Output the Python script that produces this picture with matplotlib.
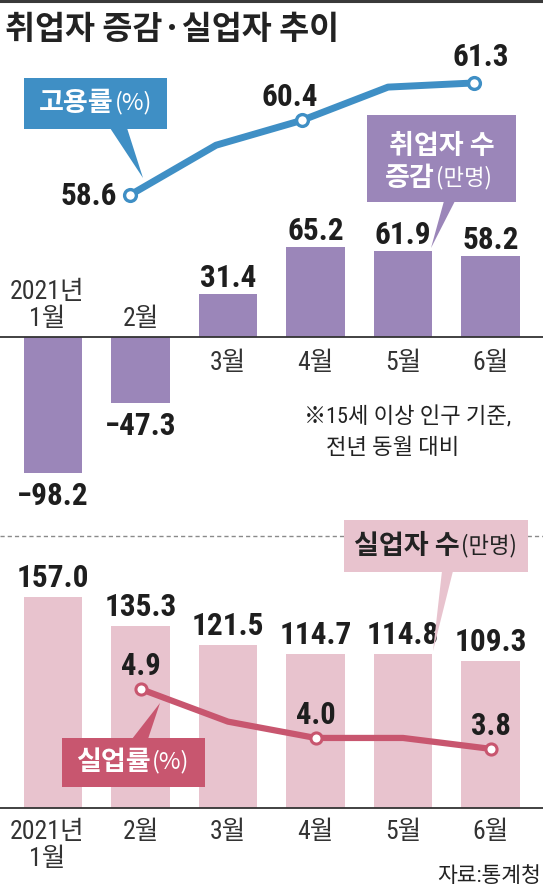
import matplotlib
matplotlib.use('Agg')
import matplotlib.pyplot as plt
from matplotlib.patches import Polygon
from matplotlib.lines import Line2D

# ---------------- data ----------------
months = ['2021년\n1월', '2월', '3월', '4월', '5월', '6월']
emp_change = [-98.2, -47.3, 31.4, 65.2, 61.9, 58.2]          # 취업자 수 증감(만명)
unemployed = [157.0, 135.3, 121.5, 114.7, 114.8, 109.3]      # 실업자 수(만명)
emp_rate_idx = [1, 2, 3, 4, 5]
emp_rate = [58.6, 59.8, 60.4, 61.2, 61.3]                    # 고용률(%)
emp_rate_labels = ['58.6', '', '60.4', '', '61.3']
unemp_rate_idx = [1, 2, 3, 4, 5]
unemp_rate = [4.9, 4.3, 4.0, 4.0, 3.8]                       # 실업률(%)
unemp_rate_labels = ['4.9', '', '4.0', '', '3.8']

title = '취업자 증감·실업자 추이'
note_lines = ['※15세 이상 인구 기준,', '전년 동월 대비']
source = '자료:통계청'

# ---------------- style ----------------
W, H, DPI = 543, 889, 100
BLUE = '#3f8fc5'
PURPLE = '#9b86b9'
PINK = '#e8c3ce'
RED = '#c8566f'
DARK = '#1e1e1e'
KR = ['Noto Sans CJK KR', 'Noto Sans CJK JP', 'DejaVu Sans']
NUM = ['Roboto Condensed', 'Noto Sans CJK KR', 'Noto Sans CJK JP', 'DejaVu Sans']
PX = 72.0 / DPI   # points per pixel
VAL_W = 'semibold'

plt.rcParams['font.family'] = KR
plt.rcParams['axes.unicode_minus'] = False

fig = plt.figure(figsize=(W / DPI, H / DPI), dpi=DPI)
fig.patch.set_facecolor('white')


def fpt(x, y):
    return (x / W, 1 - y / H)


def add_axes(top, bottom, xlim, ylim):
    ax = fig.add_axes([0, 1 - bottom / H, 1, (bottom - top) / H])
    ax.set_xlim(*xlim)
    ax.set_ylim(*ylim)
    ax.axis('off')
    return ax


def box(x0, y0, x1, y1, color, tri):
    rect = Polygon([fpt(x0, y0), fpt(x1, y0), fpt(x1, y1), fpt(x0, y1)],
                   closed=True, facecolor=color, edgecolor='none',
                   transform=fig.transFigure, zorder=5)
    fig.add_artist(rect)
    t = Polygon([fpt(*p) for p in tri], closed=True, facecolor=color,
                edgecolor='none', transform=fig.transFigure, zorder=5)
    fig.add_artist(t)


def label2(xsplit, y, bold_txt, reg_txt, color, bsize=19.5, rsize=17):
    fig.text(*fpt(xsplit, y), bold_txt, ha='right', va='center', fontsize=bsize,
             fontweight='bold', color=color, family=KR, zorder=6)
    fig.text(*fpt(xsplit + 1, y), reg_txt, ha='left', va='center', fontsize=rsize,
             color=color, family=KR, zorder=6)


XLIM_BARS = (-0.606, 5.6)
xs = list(range(len(months)))

# ---------------- top: 고용률 line ----------------
ax_t = add_axes(60, 220, (-0.512, 5.802), (57.998, 61.853))
ax_t.plot(emp_rate_idx, emp_rate, color=BLUE, lw=5, solid_joinstyle='round',
          solid_capstyle='round', marker='o', markevery=[0, 2, 4], ms=8.5,
          mfc='white', mec=BLUE, mew=2.4, zorder=3)
emp_lab_style = [(-13, -10, 'right', 'baseline'), None, (-12, 14, 'center', 'baseline'),
                 None, (7, 17, 'center', 'baseline')]
for xi, yi, lab, st in zip(emp_rate_idx, emp_rate, emp_rate_labels, emp_lab_style):
    if lab and st:
        dx, dy, ha, va = st
        ax_t.annotate(lab, (xi, yi), xytext=(dx * PX, dy * PX), textcoords='offset points',
                      ha=ha, va=va, fontsize=22.5, fontweight=VAL_W, color=DARK, family=NUM)

# ---------------- middle: 취업자 수 증감 bars ----------------
ax_m = add_axes(230, 490, XLIM_BARS, (-110.5, 77.3))
ax_m.bar(xs, emp_change, width=0.67, color=PURPLE, zorder=2)
ax_m.axhline(0, color='#333333', lw=1.3, zorder=3)
for xi, v in zip(xs, emp_change):
    txt = ('−%.1f' % abs(v)) if v < 0 else ('%.1f' % v)
    if v >= 0:
        ax_m.annotate(txt, (xi, v), xytext=(0, 7 * PX), textcoords='offset points',
                      ha='center', va='baseline', fontsize=22.5, fontweight=VAL_W,
                      color=DARK, family=NUM)
    else:
        ax_m.annotate(txt, (xi, v), xytext=(0, -8 * PX), textcoords='offset points',
                      ha='center', va='top', fontsize=22.5, fontweight=VAL_W,
                      color=DARK, family=NUM)
for xi, v, m in zip(xs, emp_change, months):
    if v < 0:
        dx = -6 if '\n' in m else 0
        ax_m.annotate(m, (xi, 0), xytext=(dx * PX, 6 * PX), textcoords='offset points',
                      ha='center', va='bottom', fontsize=18.5, color='#333333',
                      family=NUM, linespacing=1.15)
    else:
        ax_m.annotate(m, (xi, 0), xytext=(0, -14 * PX), textcoords='offset points',
                      ha='center', va='top', fontsize=18.5, color='#333333', family=NUM)

# note
fig.text(*fpt(304, 417), note_lines[0], ha='left', va='center', fontsize=16,
         color='#222222', family=NUM)
fig.text(*fpt(326, 449), note_lines[1], ha='left', va='center', fontsize=16,
         color='#222222', family=NUM)

# ---------------- bottom: 실업자 수 bars + 실업률 line ----------------
ax_b = add_axes(560, 808, XLIM_BARS, (0, 184.5))
ax_b.bar(xs, unemployed, width=0.67, color=PINK, zorder=2)
ax_b.axhline(0, color='#333333', lw=1.3, zorder=3, clip_on=False)
for xi, v in zip(xs, unemployed):
    ax_b.annotate('%.1f' % v, (xi, v), xytext=(0, 10 * PX), textcoords='offset points',
                  ha='center', va='baseline', fontsize=22.5, fontweight=VAL_W,
                  color=DARK, family=NUM)
for xi, m in zip(xs, months):
    dx = -6 if '\n' in m else 0
    ax_b.annotate(m, (xi, 0), xytext=(dx * PX, -12 * PX), textcoords='offset points',
                  ha='center', va='top', fontsize=18.5, color='#333333', family=NUM,
                  linespacing=1.15)

ax_r = ax_b.twinx()
ax_r.set_ylim(2.7125, 7.271)
ax_r.axis('off')
ax_r.plot(unemp_rate_idx, unemp_rate, color=RED, lw=4.5, solid_joinstyle='round',
          solid_capstyle='round', marker='o', markevery=[0, 2, 4], ms=8,
          mfc='white', mec=RED, mew=2.2, zorder=3)
for xi, yi, lab in zip(unemp_rate_idx, unemp_rate, unemp_rate_labels):
    if lab:
        ax_r.annotate(lab, (xi, yi), xytext=(0, 14 * PX), textcoords='offset points',
                      ha='center', va='baseline', fontsize=22, fontweight=VAL_W,
                      color=DARK, family=NUM)

# ---------------- decorations ----------------
fig.add_artist(Line2D([0, 1], [1 - 1.0 / H] * 2, transform=fig.transFigure,
                      color='#3a3a3a', lw=2.2, zorder=4))
fig.add_artist(Line2D([0, 1], [1 - 536.0 / H] * 2, transform=fig.transFigure,
                      color='#8a8a8a', lw=1.0, dashes=(3, 2.2), zorder=4))

fig.text(*fpt(5, 30), title, ha='left', va='center', fontsize=23.5, fontweight='bold',
         color='#222222', family=KR)

# 고용률 callout
box(24, 78, 167, 129, BLUE, [(110, 128), (127, 128), (143, 178)])
label2(114, 103, '고용률', '(%)', 'white')

# 취업자 수 증감 callout
box(367, 115, 516, 202, PURPLE, [(444, 201), (455, 201), (431, 248)])
fig.text(*fpt(442, 146), '취업자 수', ha='center', va='center', fontsize=19.5,
         fontweight='bold', color='white', family=KR, zorder=6)
label2(435, 178, '증감', '(만명)', 'white', rsize=16)

# 실업자 수 callout
box(344, 520, 528, 572, PINK, [(442, 571), (453, 571), (433, 651)])
label2(460, 546, '실업자 수', '(만명)', '#222222', rsize=16)

# 실업률 callout
box(62, 738, 205, 787, RED, [(132, 739), (148, 739), (160, 703)])
label2(151, 762, '실업률', '(%)', 'white')

fig.text(*fpt(541, 876), source, ha='right', va='center', fontsize=15.5,
         color='#222222', family=NUM)

fig.savefig('out.png', dpi=DPI, facecolor='white')
